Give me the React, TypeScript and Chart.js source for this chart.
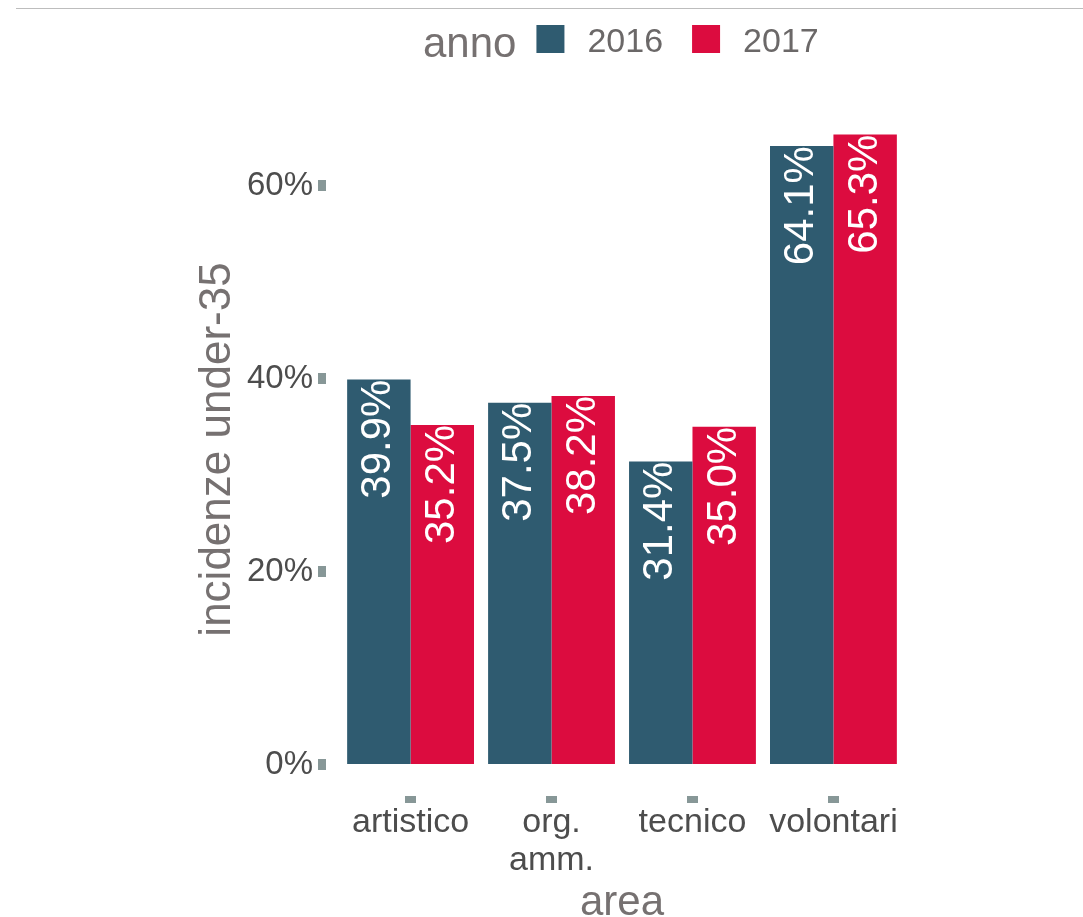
import React, { useEffect, useRef } from 'react';
import { Chart, registerables } from 'chart.js';

Chart.register(...registerables);

// ---- data ----
const categories: string[][] = [['artistico'], ['org.', 'amm.'], ['tecnico'], ['volontari']];
const years = ['2016', '2017'];
const values2016 = [39.9, 37.5, 31.4, 64.1];
const values2017 = [35.2, 38.2, 35.0, 65.3];
const yTickValues = [0, 20, 40, 60];
const legendTitle = 'anno';
const xTitle = 'area';
const yTitle = 'incidenze under-35';

const COLORS = ['#2f5b70', '#dc0c3f'];
const FAMILY = "'Liberation Sans', Arial, Helvetica, sans-serif";
const TICK_COLOR = '#4d4d4d';
const TITLE_COLOR = '#767171';
const TICKMARK_COLOR = '#879797';

const barLabelPlugin = {
  id: 'barLabels',
  afterDatasetsDraw(chart: any) {
    const ctx = chart.ctx;
    ctx.save();
    ctx.font = `42px ${FAMILY}`;
    ctx.fillStyle = '#ffffff';
    ctx.textAlign = 'right';
    ctx.textBaseline = 'middle';
    chart.data.datasets.forEach((ds: any, di: number) => {
      const meta = chart.getDatasetMeta(di);
      meta.data.forEach((el: any, i: number) => {
        const v = ds.data[i].y as number;
        ctx.save();
        ctx.translate(el.x, el.y);
        ctx.rotate(-Math.PI / 2);
        ctx.fillText(v.toFixed(1) + '%', 0, 0);
        ctx.restore();
      });
    });
    ctx.restore();
  },
};

const legendPlugin = {
  id: 'topLegend',
  afterDraw(chart: any) {
    const ctx = chart.ctx;
    ctx.save();
    ctx.textAlign = 'left';
    ctx.textBaseline = 'alphabetic';
    let x = 423;
    ctx.font = `42px ${FAMILY}`;
    ctx.fillStyle = TITLE_COLOR;
    ctx.fillText(legendTitle, x, 57);
    x += ctx.measureText(legendTitle).width + 20;
    ctx.font = `34px ${FAMILY}`;
    chart.data.datasets.forEach((ds: any) => {
      ctx.fillStyle = ds.backgroundColor;
      ctx.fillRect(x, 25, 28, 28);
      x += 28 + 23;
      ctx.fillStyle = '#6b6868';
      ctx.fillText(ds.label, x, 52);
      x += ctx.measureText(ds.label).width + 29;
    });
    ctx.restore();
  },
};

export default function App() {
  const ref = useRef<HTMLCanvasElement | null>(null);

  useEffect(() => {
    if (!ref.current) return;
    const series = [values2016, values2017];
    const chart = new Chart(ref.current, {
      type: 'bar',
      data: {
        datasets: years.map((y, k) => ({
          label: y,
          data: series[k].map((v, i) => ({ x: i, y: v })),
          backgroundColor: COLORS[k],
          borderWidth: 0,
          categoryPercentage: 0.9,
          barPercentage: 1,
        })),
      },
      options: {
        animation: false,
        responsive: false,
        maintainAspectRatio: false,
        layout: { padding: { left: 150, top: 103, right: 165, bottom: 0 } },
        plugins: {
          legend: { display: false },
          tooltip: { enabled: false },
        },
        scales: {
          x: {
            type: 'linear',
            min: -0.6,
            max: 3.6,
            offset: false,
            afterBuildTicks: (s: any) => {
              s.ticks = categories.map((_, i) => ({ value: i }));
            },
            afterFit: (s: any) => {
              s.height = 121;
            },
            ticks: {
              autoSkip: false,
              maxRotation: 0,
              minRotation: 0,
              padding: 1,
              color: TICK_COLOR,
              font: { family: FAMILY, size: 34, lineHeight: 1.12 },
              callback: (v: any) => categories[Math.round(Number(v))] ?? '',
            },
            grid: {
              offset: false,
              drawOnChartArea: false,
              drawTicks: true,
              tickLength: 7,
              tickWidth: 11,
              tickColor: TICKMARK_COLOR,
            },
            border: { display: false },
            title: {
              display: true,
              text: xTitle,
              color: TITLE_COLOR,
              font: { family: FAMILY, size: 42, lineHeight: 0.66 },
              padding: { top: 0, bottom: 0 },
            },
          },
          y: {
            type: 'linear',
            min: -3.27,
            max: 68.57,
            afterBuildTicks: (s: any) => {
              s.ticks = yTickValues.map((v) => ({ value: v }));
            },
            afterFit: (s: any) => {
              s.width = 176;
            },
            ticks: {
              padding: 5,
              color: TICK_COLOR,
              font: { family: FAMILY, size: 33 },
              callback: (v: any) => `${v}%`,
            },
            grid: {
              drawOnChartArea: false,
              drawTicks: true,
              tickLength: 8,
              tickWidth: 11,
              tickColor: TICKMARK_COLOR,
            },
            border: { display: false },
            title: {
              display: true,
              text: yTitle,
              color: TITLE_COLOR,
              font: { family: FAMILY, size: 44, lineHeight: 1 },
              padding: { top: 46, bottom: 0 },
            },
          },
        },
      },
      plugins: [barLabelPlugin, legendPlugin],
    } as any);
    return () => chart.destroy();
  }, []);

  return (
    <div
      style={{
        position: 'fixed',
        left: 0,
        top: 0,
        width: 1083,
        height: 917,
        overflow: 'hidden',
        background: '#ffffff',
      }}
    >
      <div
        style={{
          position: 'absolute',
          left: 16,
          right: 0,
          top: 8,
          height: 1,
          background: '#bdbdbd',
        }}
      />
      <canvas
        ref={ref}
        width={1083}
        height={917}
        style={{ position: 'absolute', left: 0, top: 0, width: 1083, height: 917 }}
      />
    </div>
  );
}
